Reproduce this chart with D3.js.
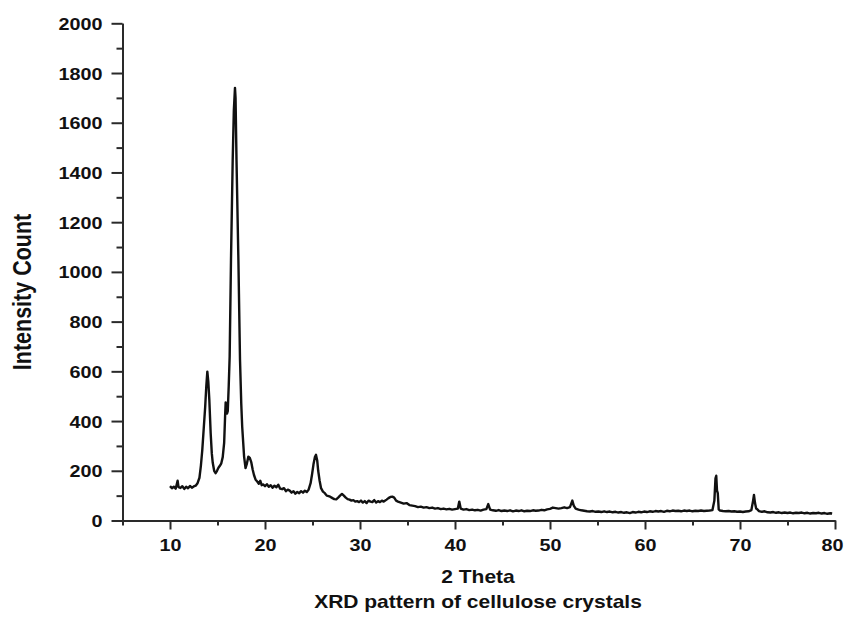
<!DOCTYPE html>
<html>
<head>
<meta charset="utf-8">
<script src="https://cdn.jsdelivr.net/npm/d3@7"></script>
<style>
  html, body { margin: 0; padding: 0; background: #fff; }
  svg { display: block; }
  text { font-family: "Liberation Sans", Arial, sans-serif; font-weight: bold; fill: #111; }
</style>
</head>
<body>
<svg id="chart" width="844" height="621"></svg>
<script>
// ---- data ----
const theta = [
 10.0,10.2,10.4,10.6,10.8,10.9,11.1,11.3,11.5,11.7,11.9,12.1,12.3,12.5,12.7,12.9,13.1,13.25,13.4,13.55,
 13.7,13.82,13.93,14.03,14.14,14.28,14.4,14.5,14.65,14.8,14.95,15.1,15.25,15.4,15.55,15.7,15.8,15.86,15.92,16.0,
 16.08,16.18,16.28,16.42,16.6,16.72,16.84,16.9,17.0,17.2,17.37,17.5,17.6,17.8,17.95,18.1,18.25,18.4,18.55,18.7,
 18.84,19.0,19.2,19.35,19.5,19.65,19.8,20.0,20.2,20.4,20.6,20.8,21.0,21.2,21.4,21.6,21.8,22.0,22.2,22.4,
 22.6,22.8,23.0,23.2,23.4,23.6,23.8,24.0,24.2,24.4,24.6,24.8,24.95,25.1,25.25,25.37,25.5,25.6,25.75,25.9,
 26.1,26.3,26.5,26.7,26.9,27.1,27.3,27.5,27.7,27.9,28.1,28.3,28.5,28.7,28.9,29.1,29.3,29.5,29.7,29.9,
 30.1,30.3,30.5,30.7,30.9,31.1,31.3,31.5,31.7,31.9,32.1,32.3,32.5,32.8,33.0,33.2,33.4,33.6,33.8,34.0,
 34.3,34.6,34.9,35.2,35.5,35.8,36.1,36.4,36.7,37.0,37.3,37.6,37.9,38.2,38.5,38.8,39.1,39.4,39.7,40.0,
 40.3,40.45,40.6,40.9,41.2,41.5,41.8,42.1,42.4,42.7,43.0,43.3,43.5,43.7,44.0,44.3,44.6,44.9,45.2,45.5,
 45.8,46.1,46.4,46.7,47.0,47.3,47.6,47.9,48.2,48.5,48.8,49.1,49.4,49.7,50.0,50.3,50.6,50.9,51.2,51.5,
 51.8,52.1,52.35,52.5,52.7,53.0,53.3,53.6,53.9,54.2,54.5,54.8,55.1,55.4,55.7,56.0,56.3,56.6,56.9,57.2,
 57.5,57.8,58.1,58.4,58.7,59.0,59.3,59.6,59.9,60.2,60.5,60.8,61.1,61.4,61.7,62.0,62.3,62.6,62.9,63.2,
 63.5,63.8,64.1,64.4,64.7,65.0,65.3,65.6,65.9,66.2,66.5,66.8,67.1,67.3,67.42,67.5,67.58,67.66,67.76,67.9,
 68.2,68.5,68.8,69.1,69.4,69.7,70.0,70.3,70.6,70.9,71.2,71.38,71.47,71.58,71.7,71.85,72.0,72.3,72.6,72.9,
 73.2,73.5,73.8,74.1,74.4,74.7,75.0,75.3,75.6,75.9,76.2,76.5,76.8,77.1,77.4,77.7,78.0,78.3,78.6,78.9,
 79.2,79.5,79.7
];
const intensity = [
 138,130,136,128,160,134,131,138,127,136,130,139,132,137,140,150,172,220,284,370,
 455,540,599,560,485,352,270,232,200,190,200,212,220,230,255,312,420,475,450,430,
 440,540,660,1048,1451,1650,1740,1700,1451,1048,646,470,377,257,211,230,257,252,235,205,
 183,165,156,148,160,142,145,138,146,136,142,132,140,134,144,128,126,130,118,124,
 120,112,118,108,115,110,118,112,120,115,125,150,185,225,255,264,240,200,160,130,
 116,110,100,98,95,90,86,85,92,100,107,100,92,86,84,80,82,76,78,74,
 80,72,78,70,80,76,74,82,72,78,74,80,76,84,90,95,96,92,80,76,
 72,68,70,62,60,58,54,56,52,54,50,52,48,50,46,48,45,47,44,46,
 48,76,48,44,46,42,44,41,43,40,44,46,66,44,41,39,42,38,40,38,
 41,37,40,38,41,37,39,38,41,39,40,43,41,45,47,52,50,48,50,53,
 50,54,80,60,48,44,41,39,37,36,38,35,36,34,37,34,36,33,35,32,
 34,31,33,30,34,32,35,33,36,34,37,35,38,36,38,35,39,37,40,38,
 39,37,40,38,40,37,39,38,40,38,39,40,42,80,170,180,120,110,45,40,
 38,37,38,36,37,35,36,34,36,37,42,80,103,70,48,44,38,35,37,33,
 32,34,31,33,30,32,30,32,29,31,30,32,29,31,28,30,29,31,28,30,
 27,29,28
];
const xMajorTicks = [10, 20, 30, 40, 50, 60, 70, 80];
const xMinorTicks = [5, 15, 25, 35, 45, 55, 65, 75];
const yMajorTicks = [0, 200, 400, 600, 800, 1000, 1200, 1400, 1600, 1800, 2000];
const yMinorTicks = [100, 300, 500, 700, 900, 1100, 1300, 1500, 1700, 1900];
const xTitle = "2 Theta";
const yTitle = "Intensity Count";
const caption = "XRD pattern of cellulose crystals";

// ---- layout ----
const svg = d3.select("#chart");
const SX = 1.2; // horizontal stretch of the lettering in the reference
const x = d3.scaleLinear().domain([5, 80]).range([122.5, 835]);
const y = d3.scaleLinear().domain([0, 2000]).range([520.5, 23.3]);
const axisColor = "#2a2a2a";

function styleAxis(g) {
  g.select(".domain").attr("stroke", axisColor).attr("stroke-width", 2);
  g.selectAll(".tick line").attr("stroke", axisColor).attr("stroke-width", 2);
}

// y minor
svg.append("g").attr("transform", `translate(${x(5)},0)`)
  .call(d3.axisLeft(y).tickValues(yMinorTicks).tickSize(6).tickSizeOuter(0).tickFormat(""))
  .call(styleAxis);
// y major
const gy = svg.append("g").attr("transform", `translate(${x(5)},0)`)
  .call(d3.axisLeft(y).tickValues(yMajorTicks).tickSize(11).tickSizeOuter(0).tickFormat(d3.format("d")))
  .call(styleAxis);
gy.selectAll(".tick text")
  .attr("x", null).attr("dy", null)
  .attr("transform", `translate(-20,6) scale(${SX},1)`)
  .attr("text-anchor", "end")
  .style("font-size", "16.5px").style("font-family", "'Liberation Sans', Arial, sans-serif").style("font-weight", "bold");

// x minor
svg.append("g").attr("transform", `translate(0,${y(0)})`)
  .call(d3.axisBottom(x).tickValues(xMinorTicks).tickSize(5).tickSizeOuter(0).tickFormat(""))
  .call(styleAxis);
// x major
const gx = svg.append("g").attr("transform", `translate(0,${y(0)})`)
  .call(d3.axisBottom(x).tickValues(xMajorTicks).tickSize(9).tickSizeOuter(0).tickFormat(d3.format("d")))
  .call(styleAxis);
gx.selectAll(".tick text")
  .attr("y", null).attr("dy", null)
  .attr("transform", d => d === 80 ? `translate(8,30) scale(${SX},1)` : `translate(0,30) scale(${SX},1)`)
  .attr("text-anchor", d => d === 80 ? "end" : "middle")
  .style("font-size", "16.5px").style("font-family", "'Liberation Sans', Arial, sans-serif").style("font-weight", "bold");

// data line
const pts = theta.map((t, i) => [t, intensity[i]]);
svg.append("path")
  .datum(pts)
  .attr("fill", "none")
  .attr("stroke", "#111")
  .attr("stroke-width", 2.4)
  .attr("stroke-linejoin", "round")
  .attr("d", d3.line().x(d => x(d[0])).y(d => y(d[1])));

// titles
svg.append("text")
  .attr("transform", `translate(478,583) scale(${SX},1)`)
  .attr("text-anchor", "middle")
  .style("font-size", "17.5px")
  .text(xTitle);
svg.append("text")
  .attr("transform", `translate(478,608) scale(${SX},1)`)
  .attr("text-anchor", "middle")
  .style("font-size", "17.5px")
  .text(caption);
svg.append("text")
  .attr("transform", `translate(31,292) scale(${SX},1) rotate(-90)`)
  .attr("text-anchor", "middle")
  .style("font-size", "21.5px")
  .text(yTitle);
</script>
</body>
</html>
